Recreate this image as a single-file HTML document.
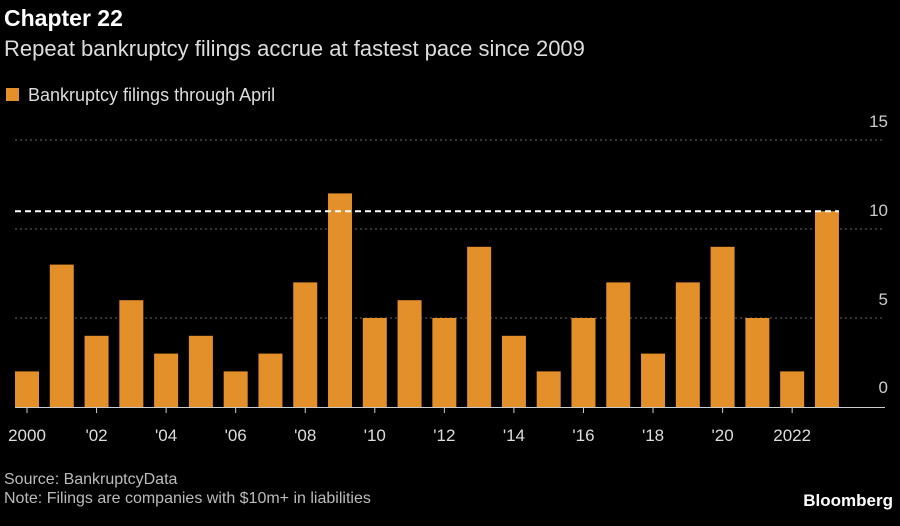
<!DOCTYPE html>
<html><head><meta charset="utf-8"><style>
body{margin:0;background:#000;width:900px;height:521px;overflow:hidden;font-family:"Liberation Sans",sans-serif;color:#ddd}
</style></head><body>
<svg width="900" height="521">
<text x="4" y="26" fill="#fff" font-size="23" font-weight="bold">Chapter 22</text>
<text x="4" y="56" fill="#ddd" font-size="22">Repeat bankruptcy filings accrue at fastest pace since 2009</text>
<rect x="6" y="88" width="13" height="13" fill="#e38f2a"/>
<text x="28" y="101" fill="#ddd" font-size="18">Bankruptcy filings through April</text>
<g id="grid"></g><g id="bars"></g><g id="xt"></g>
<text x="4" y="484" fill="#bbb" font-size="16">Source: BankruptcyData</text>
<text x="4" y="503" fill="#bbb" font-size="16">Note: Filings are companies with $10m+ in liabilities</text>
<text x="893" y="506" fill="#fff" font-size="17" font-weight="bold" text-anchor="end">Bloomberg</text>
</svg>
<script>
const years=[2000,2001,2002,2003,2004,2005,2006,2007,2008,2009,2010,2011,2012,2013,2014,2015,2016,2017,2018,2019,2020,2021,2022,2023];
const filings=[2,8,4,6,3,4,2,3,7,12,5,6,5,9,4,2,5,7,3,7,9,5,2,11];
const yTicks=[0,5,10,15];
const xLabels=["2000","'02","'04","'06","'08","'10","'12","'14","'16","'18","'20","2022"];
const refValue=11;
const NS="http://www.w3.org/2000/svg";
const y=v=>407-v*17.8;
const x=i=>27+i*34.78;
function mk(t,a,p){const e=document.createElementNS(NS,t);for(const k in a)e.setAttribute(k,a[k]);document.getElementById(p).appendChild(e);return e;}
yTicks.forEach(t=>{
 if(t>0){const l=mk('line',{x1:15,x2:885,y1:y(t),y2:y(t),stroke:'#666','stroke-dasharray':'2,3'},'grid');
 
 }
 const tx=mk('text',{x:888,y:y(t)-(t>0?13:14),fill:'#ccc','font-size':17,'text-anchor':'end'},'grid');tx.textContent=t;
 
 
});
filings.forEach((v,i)=>{
 const r=mk('rect',{x:x(i)-12,y:y(v),width:24,height:407-y(v),fill:'#e38f2a'},'bars');
 
 
});
const base=mk('line',{x1:15,x2:885,y1:407.5,y2:407.5,stroke:'#ccc','stroke-width':1},'xt');


const ref=mk('line',{x1:15,x2:x(23)+12,y1:y(refValue),y2:y(refValue),stroke:'#fff','stroke-width':2,'stroke-dasharray':'6,4'},'xt');


xLabels.forEach((s,j)=>{
 const i=j*2;
 const tk=mk('line',{x1:x(i),x2:x(i),y1:408,y2:413,stroke:'#ccc'},'xt');
 
 
 const t=mk('text',{x:x(i),y:441,fill:'#ddd','font-size':17,'text-anchor':'middle'},'xt');t.textContent=s;
 
 
});
</script>
</body></html>
